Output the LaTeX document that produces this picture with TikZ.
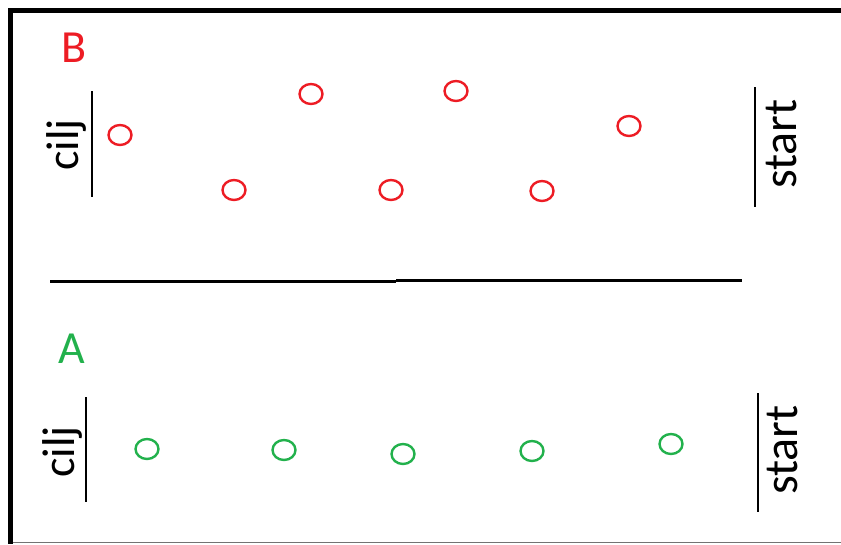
\documentclass[tikz,border=0pt]{standalone}
\usepackage{fontspec}
\setmainfont{Carlito}
\usetikzlibrary{shapes.geometric}
\definecolor{pred}{HTML}{ED1C24}
\definecolor{pgreen}{HTML}{22B14C}
\tikzset{
  ring/.style={ellipse, draw, line width=2.4pt, minimum width=23pt, minimum height=20pt, inner sep=0pt},
  redring/.style={ring, draw=pred},
  greenring/.style={ring, draw=pgreen},
  lbl/.style={inner sep=0pt, font=\fontsize{46}{46}\selectfont},
  vlbl/.style={lbl, rotate=90},
  slbl/.style={vlbl, font=\fontsize{48}{48}\selectfont},
  bar/.style={line width=2.5pt},
}
\begin{document}
\begin{tikzpicture}[x=1pt,y=-1pt]
\useasboundingbox (0,0) rectangle (841,544);
% frame
\coordinate (fl1) at (10.5,8);
\coordinate (fl2) at (10.5,544);
\coordinate (ft1) at (8,10.5);
\coordinate (ft2) at (841,10.5);
\coordinate (fb1) at (13,542.5);
\coordinate (fb2) at (841,542.5);
\draw[line width=5pt] (fl1) -- (fl2);
\draw[line width=5pt] (ft1) -- (ft2);
\draw[line width=1.2pt, black!55] (fb1) -- (fb2);
% divider
\coordinate (d1) at (50,281);
\coordinate (d2) at (396,281);
\coordinate (d3) at (396,280);
\coordinate (d4) at (742,280);
\draw[line width=3pt] (d1) -- (d2);
\draw[line width=3pt] (d3) -- (d4);
% section B
\node[lbl, text=pred] (labB) at (74,48) {B};
\node[vlbl] (ciljB) at (66,145) {cilj};
\coordinate (cbB1) at (92,91);
\coordinate (cbB2) at (92,197);
\draw[bar] (cbB1) -- (cbB2);
\node[slbl] (startB) at (781,144) {start};
\coordinate (sbB1) at (755,87);
\coordinate (sbB2) at (755,207);
\draw[bar] (sbB1) -- (sbB2);
\node[redring] (b1) at (120,135) {};
\node[redring] (b2) at (234,190) {};
\node[redring] (b3) at (311,94) {};
\node[redring] (b4) at (391,190) {};
\node[redring] (b5) at (456,91) {};
\node[redring] (b6) at (542,191) {};
\node[redring] (b7) at (629,126) {};
% section A
\node[lbl, text=pgreen] (labA) at (72,349) {A};
\node[vlbl] (ciljA) at (62,452) {cilj};
\coordinate (cbA1) at (86,397);
\coordinate (cbA2) at (86,502);
\draw[bar] (cbA1) -- (cbA2);
\node[slbl] (startA) at (782,450) {start};
\coordinate (sbA1) at (758,393);
\coordinate (sbA2) at (758,512);
\draw[bar] (sbA1) -- (sbA2);
\node[greenring] (a1) at (147,449) {};
\node[greenring] (a2) at (284,450) {};
\node[greenring] (a3) at (403,454) {};
\node[greenring] (a4) at (532,451) {};
\node[greenring] (a5) at (671,444) {};
\end{tikzpicture}
\end{document}
